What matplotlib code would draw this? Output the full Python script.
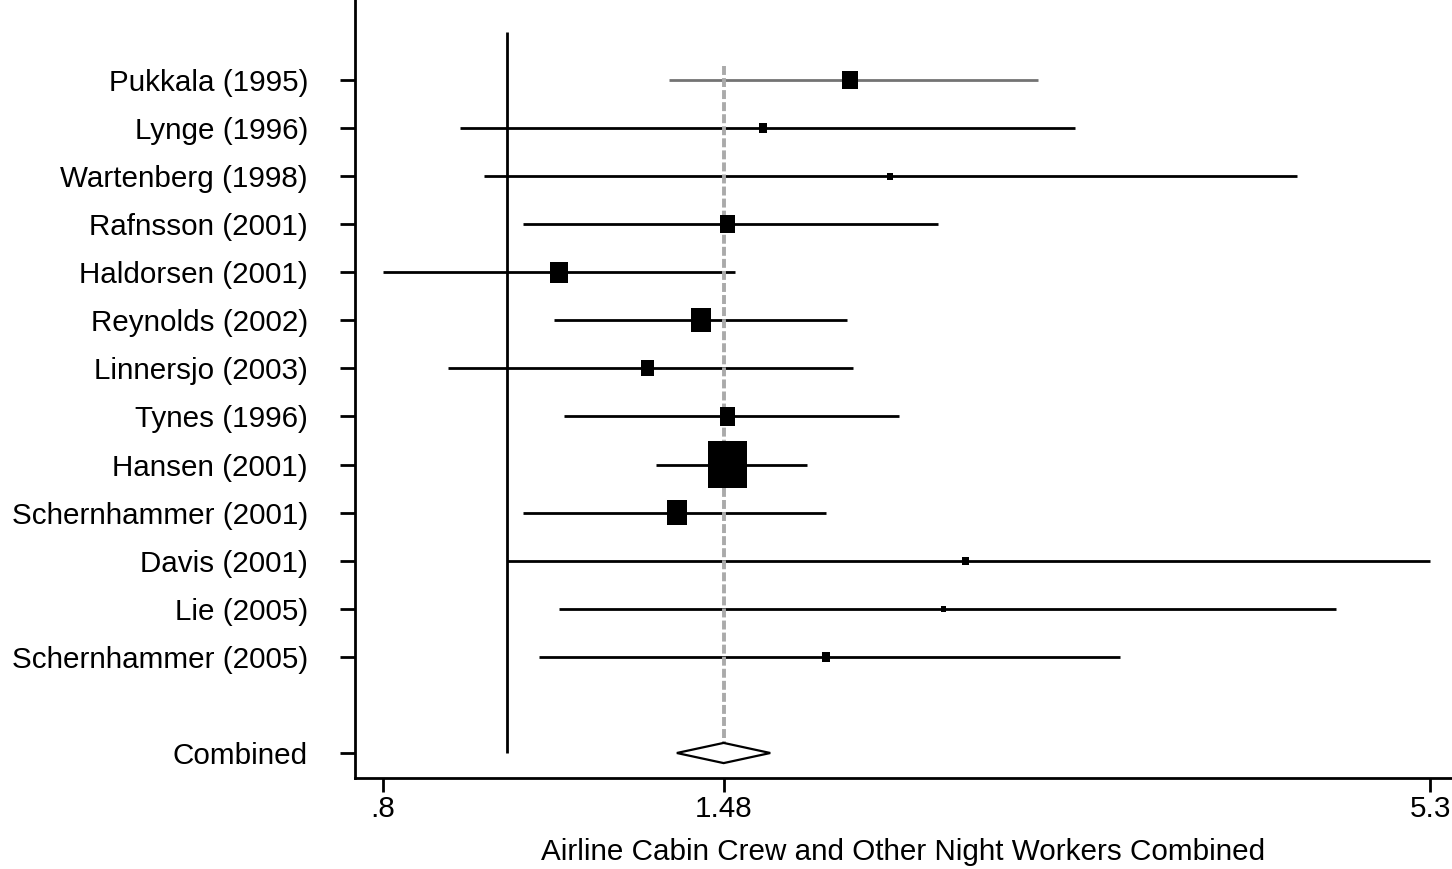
import numpy as np
import matplotlib
matplotlib.use('Agg')
import matplotlib.pyplot as plt

# study estimates (log scale x axis)
studies = ['Pukkala (1995)', 'Lynge (1996)', 'Wartenberg (1998)', 'Rafnsson (2001)',
           'Haldorsen (2001)', 'Reynolds (2002)', 'Linnersjo (2003)', 'Tynes (1996)',
           'Hansen (2001)', 'Schernhammer (2001)', 'Davis (2001)', 'Lie (2005)',
           'Schernhammer (2005)']
rr = [1.86, 1.59, 2.00, 1.49, 1.10, 1.42, 1.29, 1.49, 1.49, 1.36, 2.29, 2.20, 1.78]
lower = [1.34, 0.92, 0.96, 1.03, 0.80, 1.09, 0.90, 1.11, 1.31, 1.03, 1.00, 1.10, 1.06]
upper = [2.61, 2.79, 4.17, 2.18, 1.51, 1.85, 1.87, 2.03, 1.72, 1.78, 5.30, 4.47, 3.03]
weights = [6.3, 1.6, 0.9, 6.0, 8.3, 10.7, 4.6, 6.3, 40.4, 11.1, 1.2, 0.7, 2.0]

combined_label = 'Combined'
combined = [1.48, 1.36, 1.61]  # estimate, lower, upper

xticks = [0.8, 1.48, 5.3]
xticklabels = ['.8', '1.48', '5.3']
xlabel = 'Airline Cabin Crew and Other Night Workers Combined'

plt.rcParams['font.family'] = ['Liberation Sans', 'DejaVu Sans']
fs = 21.3

fig = plt.figure(figsize=(14.52, 8.69), dpi=100)
ax = fig.add_axes([355 / 1452, 1 - 778 / 869, 1 - 355 / 1452, 778 / 869])

rows = np.arange(1, len(studies) + 1)
crow = len(studies) + 2

# null line and pooled estimate line
ax.vlines(1.0, 0, crow, color='black', lw=2.0, zorder=1)
ax.vlines(combined[0], 0.7, crow - 0.21, color='#aaaaaa', lw=2.8,
          linestyles=(0, (2.3, 0.8)), zorder=3)

# confidence intervals
colors = ['#737373'] + ['black'] * (len(studies) - 1)
ax.hlines(rows, lower, upper, colors=colors, lw=2.0, zorder=2)

# boxes, area proportional to weight
box = [(-0.415, -0.5), (0.415, -0.5), (0.415, 0.5), (-0.415, 0.5), (-0.415, -0.5)]
heights_pt = 7.4 * np.sqrt(weights) * 0.72
ax.scatter(rr, rows, s=heights_pt ** 2, marker=box, color='black',
           linewidths=0, zorder=4)

# pooled diamond
h = 0.21
ax.fill([combined[1], combined[0], combined[2], combined[0]],
        [crow, crow - h, crow, crow + h],
        facecolor='white', edgecolor='black', lw=1.6, zorder=5)

ax.set_xscale('log')
ax.set_xlim(0.7606, 5.514)
ax.set_ylim(crow + 0.52, -0.664)
ax.set_xticks(xticks)
ax.set_xticklabels(xticklabels)
ax.minorticks_off()
ax.set_yticks(list(rows) + [crow])
ax.set_yticklabels(studies + [combined_label])

ax.tick_params(axis='y', length=10.8, width=2.0, pad=23, labelsize=fs)
ax.tick_params(axis='x', length=10, width=2.0, pad=2, labelsize=fs)
ax.set_xlabel(xlabel, fontsize=fs, labelpad=11)

for side in ['top', 'right']:
    ax.spines[side].set_visible(False)
for side in ['left', 'bottom']:
    ax.spines[side].set_linewidth(2.0)

fig.savefig('out.png', dpi=100)
